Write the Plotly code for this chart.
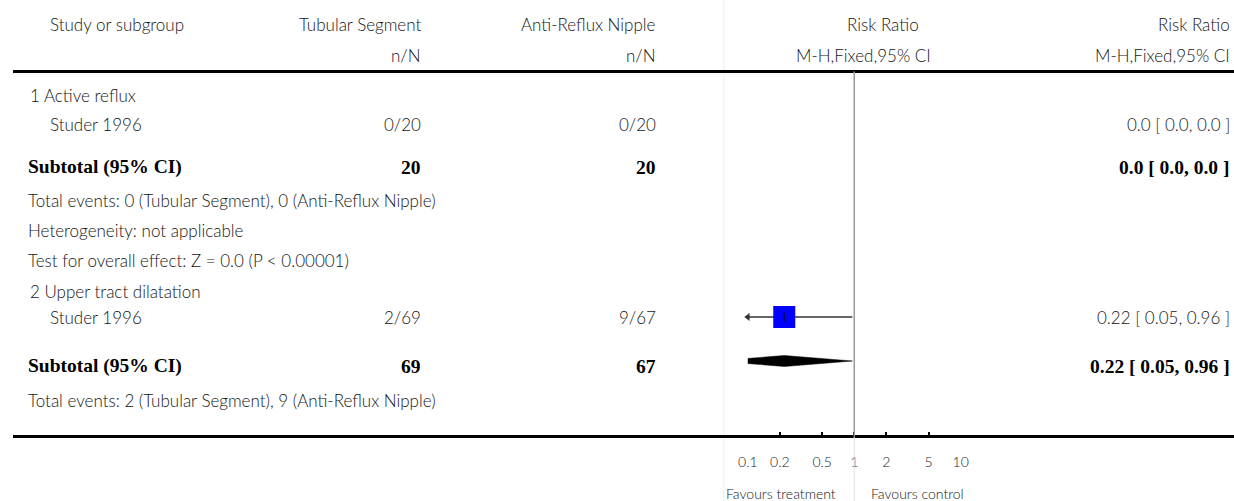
import plotly.graph_objects as go

# ---- data -------------------------------------------------------------
group_titles = ["1 Active reflux", "2 Upper tract dilatation"]
study_names = ["Studer 1996", "Studer 1996"]
tubular_events = [0, 2]
tubular_totals = [20, 69]
nipple_events = [0, 9]
nipple_totals = [20, 67]
study_rr = [None, 0.22]
study_lo = [None, 0.05]
study_hi = [None, 0.96]
study_rr_text = ["0.0 [ 0.0, 0.0 ]", "0.22 [ 0.05, 0.96 ]"]
subtotal_rr = [None, 0.22]
subtotal_lo = [None, 0.05]
subtotal_hi = [None, 0.96]
subtotal_rr_text = ["0.0 [ 0.0, 0.0 ]", "0.22 [ 0.05, 0.96 ]"]
group_notes = [
    ["Total events: 0 (Tubular Segment), 0 (Anti-Reflux Nipple)",
     "Heterogeneity: not applicable",
     "Test for overall effect: Z = 0.0 (P < 0.00001)"],
    ["Total events: 2 (Tubular Segment), 9 (Anti-Reflux Nipple)"],
]
axis_ticks = [0.1, 0.2, 0.5, 1, 2, 5, 10]
axis_ticktext = ["0.1", "0.2", "0.5", "1", "2", "5", "10"]
favours_left = "Favours treatment"
favours_right = "Favours control"

# ---- layout constants (pixels) -----------------------------------------
W, H = 1234, 501
INSET = 8                      # horizontal page inset on each side
SPAN = W - 2 * INSET
SANS = "Lato"
SERIF = "Liberation Serif"
TXT = "#151515"
FS = 17            # body text size
FS_BOLD = 19.5     # subtotal rows
X_STUDY = 47
X_GROUP = 27
X_LEFT = 25
X_TUB = 421
X_NIP = 656
X_RR = 1231
PLOT_L, PLOT_R = 747, 960.3   # pixel positions of 0.1 and 10
Y_TOP_RULE = 71.5
Y_BOTTOM_RULE = 436.5

group_row_y = [95, 291]
study_row_y = [124, 317]
subtotal_row_y = [167, 366]
note_row_y = [[200, 230, 260], [400]]

def px(x):
    """Horizontal pixel position -> paper fraction."""
    return (x - INSET) / SPAN

annotations = []

def text(x, y, s, anchor="left", size=FS, family=SANS, color=TXT, bold=False):
    annotations.append(dict(
        x=px(x), y=y, xref="paper", yref="y", text=f"<b>{s}</b>" if bold else s,
        showarrow=False, xanchor=anchor, yanchor="middle", borderpad=0,
        font=dict(family=family, size=size, color=color,
                  weight=700 if bold else 300),
    ))

# header
text(X_STUDY, 24, "Study or subgroup")
text(X_TUB, 24, "Tubular Segment", "right")
text(X_NIP, 24, "Anti-Reflux Nipple", "right")
text(882, 24, "Risk Ratio", "center")
text(X_RR, 24, "Risk Ratio", "right")
text(X_TUB, 55, "n/N", "right")
text(X_NIP, 55, "n/N", "right")
text(863, 55, "M-H,Fixed,95% CI", "center")
text(X_RR, 55, "M-H,Fixed,95% CI", "right")

fig = go.Figure()

for g in range(len(group_titles)):
    text(X_GROUP, group_row_y[g], group_titles[g])
    ys = study_row_y[g]
    text(X_STUDY, ys, study_names[g])
    text(X_TUB, ys, f"{tubular_events[g]}/{tubular_totals[g]}", "right")
    text(X_NIP, ys, f"{nipple_events[g]}/{nipple_totals[g]}", "right")
    text(X_RR, ys, study_rr_text[g], "right")

    yt = subtotal_row_y[g]
    bold = dict(size=FS_BOLD, family=SERIF, color="#000", bold=True)
    text(X_LEFT, yt, "Subtotal (95% CI)", **bold)
    text(X_TUB, yt, str(tubular_totals[g]), "right", **bold)
    text(X_NIP, yt, str(nipple_totals[g]), "right", **bold)
    text(X_RR, yt, subtotal_rr_text[g], "right", **bold)

    for note, yn in zip(group_notes[g], note_row_y[g]):
        text(X_LEFT, yn, note)

    # study confidence interval and point estimate
    if study_rr[g] is not None:
        fig.add_trace(go.Scatter(
            x=[study_lo[g], study_hi[g]], y=[ys, ys], mode="lines",
            line=dict(color="#333333", width=1.6), hoverinfo="skip", showlegend=False))
        fig.add_trace(go.Scatter(
            x=[study_rr[g]], y=[ys], mode="markers",
            marker=dict(symbol="square", size=22, color="#0000ff", line=dict(width=0)),
            hoverinfo="skip", showlegend=False))
        fig.add_trace(go.Scatter(
            x=[study_rr[g]], y=[ys], mode="markers",
            marker=dict(symbol="line-ns", size=6, line=dict(color="#000", width=1)),
            hoverinfo="skip", showlegend=False))
        if study_lo[g] < axis_ticks[0]:
            fig.add_trace(go.Scatter(
                x=[axis_ticks[0]], y=[ys], mode="markers", cliponaxis=False,
                marker=dict(symbol="triangle-left", size=7, color="#333333", line=dict(width=0)),
                hoverinfo="skip", showlegend=False))

    # pooled diamond
    if subtotal_rr[g] is not None:
        yc, half = yt - 5, 5.5
        fig.add_trace(go.Scatter(
            x=[subtotal_lo[g], subtotal_rr[g], subtotal_hi[g], subtotal_rr[g], subtotal_lo[g]],
            y=[yc, yc - half, yc, yc + half, yc],
            mode="lines", fill="toself", fillcolor="#000", line=dict(color="#000", width=0.5),
            hoverinfo="skip", showlegend=False))

# bottom axis labels
text(836, 493, favours_left, "right", size=14)
text(869, 493, favours_right, "left", size=14)

shapes = [
    # faint panel divider
    dict(type="line", xref="paper", yref="y", x0=px(723), x1=px(723), y0=0, y1=H,
         line=dict(color="#eeeeee", width=1)),
    # table rules
    dict(type="line", xref="paper", yref="y", x0=px(11), x1=px(W), y0=Y_TOP_RULE, y1=Y_TOP_RULE,
         line=dict(color="#000", width=3)),
    dict(type="line", xref="paper", yref="y", x0=px(11), x1=px(W), y0=Y_BOTTOM_RULE, y1=Y_BOTTOM_RULE,
         line=dict(color="#000", width=3)),
    # line of no effect
    dict(type="line", xref="x", yref="y", x0=1, x1=1, y0=Y_TOP_RULE, y1=Y_BOTTOM_RULE,
         line=dict(color="#999999", width=1.5)),
    dict(type="line", xref="x", yref="y", x0=1, x1=1, y0=Y_BOTTOM_RULE, y1=H,
         line=dict(color="#dddddd", width=1)),
]

fig.update_layout(
    width=W, height=H, autosize=False,
    margin=dict(l=0, r=0, t=0, b=0, pad=0),
    paper_bgcolor="white", plot_bgcolor="rgba(0,0,0,0)",
    annotations=annotations, shapes=shapes,
    xaxis=dict(
        type="log", range=[-1, 1], domain=[px(PLOT_L), px(PLOT_R)],
        anchor="free", position=1 - Y_BOTTOM_RULE / H,
        showgrid=False, zeroline=False, showline=False,
        ticks="inside", ticklen=5, tickwidth=2, tickcolor="#000",
        tickvals=axis_ticks, ticktext=axis_ticktext,
        tickfont=dict(family=SANS, size=14, color="#222222", weight=300),
        ticklabelstandoff=15, fixedrange=True,
    ),
    yaxis=dict(range=[H, 0], domain=[0, 1], visible=False, fixedrange=True),
)

fig.write_html("out.html")
